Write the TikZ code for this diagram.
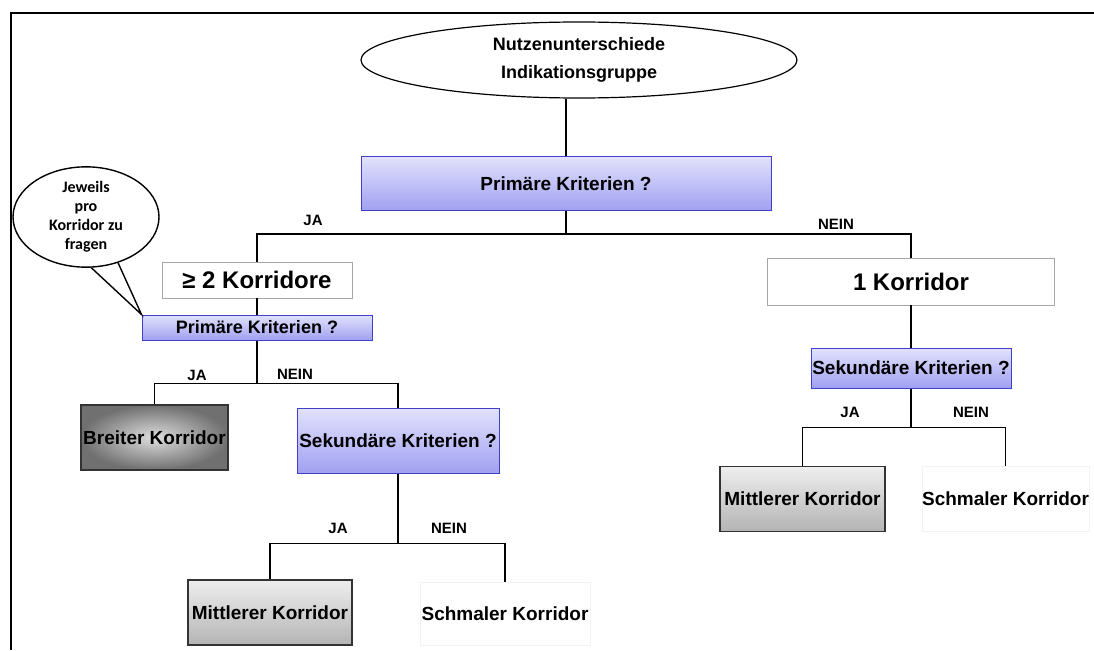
\documentclass[tikz,border=0pt]{standalone}
\usepackage{fontspec}
\setmainfont{Liberation Sans}
\newfontfamily\bubblefont{Carlito}
\usetikzlibrary{shapes.geometric}

\definecolor{fragetop}{RGB}{226,226,252}
\definecolor{fragebot}{RGB}{160,160,242}
\definecolor{fragerand}{RGB}{64,64,200}
\definecolor{mitteltop}{RGB}{238,238,238}
\definecolor{mittelbot}{RGB}{180,180,180}
\definecolor{breitinnen}{RGB}{222,222,222}
\definecolor{breitaussen}{RGB}{112,112,112}

\begin{document}
\begin{tikzpicture}[
    x=1pt, y=-1pt,
    line width=1.6pt,
    frage/.style = {
        rectangle, draw=fragerand, line width=1pt,
        top color=fragetop, bottom color=fragebot,
        inner sep=0pt, font=\fontsize{19}{21}\selectfont\bfseries
    },
    anzahl/.style = {
        rectangle, draw=gray!70, line width=0.8pt, fill=white,
        inner sep=0pt, font=\fontsize{24}{26}\selectfont\bfseries
    },
    korridor/.style = {
        rectangle, inner sep=0pt, minimum width=165pt, minimum height=65pt,
        font=\fontsize{19}{21}\selectfont\bfseries
    },
    antwort/.style = {font=\fontsize{15}{17}\selectfont\bfseries}
]
\useasboundingbox (0,0) rectangle (1094,650);

% Rahmen
\draw[line width=2pt] (11,650) -- (11,13) -- (1094,13);

% Wurzel
\node[ellipse, draw, line width=1.2pt, minimum width=436pt, minimum height=76pt,
      inner sep=0pt, align=center, font=\fontsize{18}{28}\selectfont\bfseries]
      (ziel) at (579,60) {Nutzenunterschiede\\Indikationsgruppe};
\node[frage, minimum width=410pt, minimum height=54pt] (prim1) at (566,183.5) {Primäre Kriterien ?};

% Anzahl Korridore
\node[anzahl, minimum width=190pt, minimum height=36pt] (korr2) at (257,280) {≥ 2 Korridore};
\node[anzahl, minimum width=287pt, minimum height=47pt] (korr1) at (911,281.5) {1 Korridor};

% Linker Zweig
\node[frage, font=\fontsize{18}{20}\selectfont\bfseries, minimum width=230pt, minimum height=25pt]
      (prim2) at (257,327.5) {Primäre Kriterien ?};
\node[korridor, minimum width=147pt, draw=black!80, line width=1.4pt,
      shading=radial, inner color=breitinnen, outer color=breitaussen]
      (breit) at (154.5,437.5) {Breiter Korridor};
\node[frage, minimum width=202pt, minimum height=65pt] (sek1) at (398,440.5) {Sekundäre Kriterien ?};
\node[korridor, minimum width=164pt, draw=black!80, line width=1.4pt,
      top color=mitteltop, bottom color=mittelbot]
      (mit1) at (270,612.5) {Mittlerer Korridor};
\node[korridor, minimum width=170pt, minimum height=63pt, draw=gray!10, line width=0.6pt]
      (sch1) at (505,613.5) {Schmaler Korridor};

% Rechter Zweig
\node[frage, minimum width=200pt, minimum height=40pt] (sek2) at (911,368) {Sekundäre Kriterien ?};
\node[korridor, draw=black!80, line width=1.4pt,
      top color=mitteltop, bottom color=mittelbot]
      (mit2) at (802.5,499) {Mittlerer Korridor};
\node[korridor, draw=gray!10, line width=0.6pt] (sch2) at (1005.5,499) {Schmaler Korridor};

% Sprechblase
\node[ellipse, draw, line width=1.4pt, fill=white, minimum width=146pt, minimum height=80pt,
      inner sep=0pt, align=center, font=\bubblefont\fontsize{16}{19}\selectfont\bfseries]
      (blase) at (86,217) {Jeweils\\pro\\Korridor zu\\fragen};
\draw[line width=1.4pt, line join=miter] (blase.276) -- (prim2.north west) -- (blase.305);

% Antworten
\node[antwort] (ja1) at (313,220) {JA};
\node[antwort] (nein1) at (836,224) {NEIN};
\node[antwort] (ja2) at (197,375) {JA};
\node[antwort] (nein2) at (295,374) {NEIN};
\node[antwort] (ja3) at (338,528) {JA};
\node[antwort] (nein3) at (449,528) {NEIN};
\node[antwort] (ja4) at (850,412) {JA};
\node[antwort] (nein4) at (971,412) {NEIN};

% Verbindungen
\draw (prim1.north) -- (prim1.north |- ziel.south);
\draw (prim1.south) -- ++(0,23) coordinate (gabel1);
\draw (gabel1) -| (korr2);
\draw (gabel1) -| (korr1);
\draw (korr2) -- (prim2);
\draw (prim2.south) -- ++(0,43) coordinate (gabel2);
\draw (gabel2) -| (breit);
\draw (gabel2) -| (sek1);
\draw (sek1.south) -- ++(0,70) coordinate (gabel3);
\draw (gabel3) -| (mit1);
\draw (gabel3) -| (sch1);
\draw (korr1) -- (sek2);
\draw (sek2.south) -- ++(0,39) coordinate (gabel4);
\draw (gabel4) -| (mit2);
\draw (gabel4) -| (sch2);

\end{tikzpicture}
\end{document}
